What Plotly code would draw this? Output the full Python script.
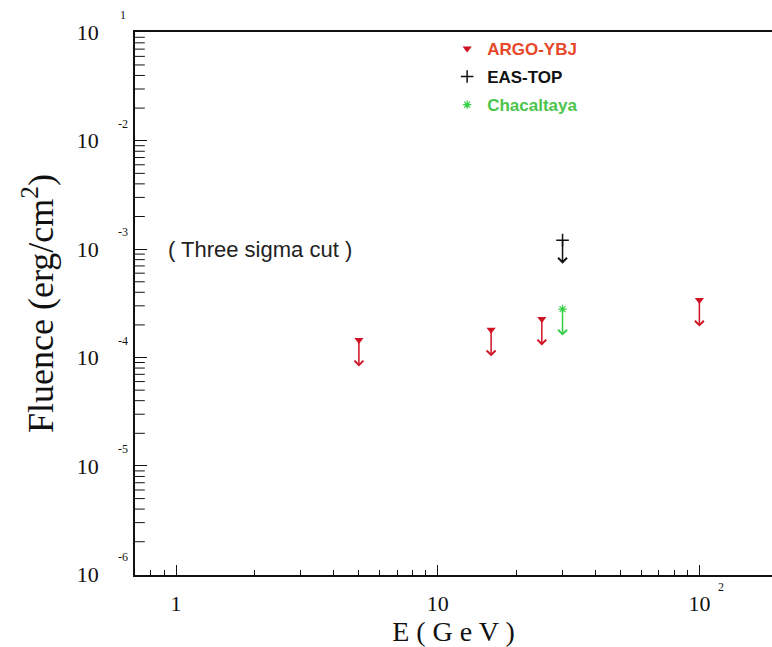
import math
import plotly.graph_objects as go

# ---- data ----
argo_E = [5, 16, 25, 100]
argo_F = [1.45e-4, 1.80e-4, 2.27e-4, 3.39e-4]
eas_E = [30]
eas_F = [1.21e-3]
chac_E = [30]
chac_F = [2.80e-4]

y_tickvals = [1e-6, 1e-5, 1e-4, 1e-3, 1e-2, 1e-1]
y_exponents = ["-6", "-5", "-4", "-3", "-2", "1"]
x_tickvals = [1, 10, 100]
x_ticktext = ["1", "10", "10"]
x_exponents = ["", "", "2"]

RED = "#cf1322"
BLACK = "#111111"
GREEN = "#35cf45"
SERIF = "Liberation Serif, Times New Roman, serif"
SANS = "Liberation Sans, Arial, sans-serif"

X_RANGE = [-0.1567, 2.2775]
Y_RANGE = [-6.006, -0.997]
y_minor = [m * 10.0 ** d for d in range(-6, -1) for m in range(2, 10)]
x_minor = [m * 10.0 ** d for d in range(-1, 3) for m in range(2, 10)]

fig = go.Figure()

# minor ticks on the left axis: short dashes clipped to the plot area (only inner half shows)
fig.add_trace(go.Scatter(
    x=[10 ** X_RANGE[0]] * len(y_minor), y=y_minor, mode="markers", showlegend=False,
    hoverinfo="skip", cliponaxis=True,
    marker=dict(symbol="line-ew", size=14, color=BLACK, line=dict(width=1, color=BLACK)),
))

fig.add_trace(go.Scatter(
    x=argo_E, y=argo_F, mode="markers",
    name="<b><span style='color:#e8472a'>ARGO-YBJ</span></b>",
    legendgroup="a",
    marker=dict(symbol="triangle-down", size=8, color=RED, line=dict(width=0)),
))
fig.add_trace(go.Scatter(
    x=eas_E, y=eas_F, mode="markers",
    name="<b><span style='color:#111111'>EAS-TOP</span></b>",
    legendgroup="b",
    marker=dict(symbol="cross-thin-open", size=9, color=BLACK, line=dict(width=1.5, color=BLACK)),
))
fig.add_trace(go.Scatter(
    x=chac_E, y=chac_F, mode="markers",
    name="<b><span style='color:#4cc44c'>Chacaltaya</span></b>",
    legendgroup="c",
    marker=dict(symbol="asterisk-open", size=7, color=GREEN, line=dict(width=1.2, color=GREEN)),
))

annotations = []
# upper-limit arrows
for E_list, F_list, col, length in [(argo_E, argo_F, RED, 28), (eas_E, eas_F, BLACK, 25), (chac_E, chac_F, GREEN, 28)]:
    for e, f in zip(E_list, F_list):
        annotations.append(dict(
            x=math.log10(e), y=math.log10(f), xref="x", yref="y",
            text="", showarrow=True, ax=0, ay=length, axref="pixel", ayref="pixel",
            arrowside="start", startarrowhead=4, startarrowsize=1.15, arrowwidth=1.5, arrowcolor=col,
            font=dict(size=1),
        ))

# y tick exponents
for v, ex in zip(y_tickvals, y_exponents):
    annotations.append(dict(
        x=-0.019, xref="paper", y=math.log10(v), yref="y", text=ex, showarrow=False,
        yshift=17, font=dict(family=SERIF, size=12, color=BLACK), xanchor="center", yanchor="middle",
    ))
# x tick exponents
for v, ex in zip(x_tickvals, x_exponents):
    if ex:
        annotations.append(dict(
            x=math.log10(v), xref="x", y=-0.022, yref="paper", text=ex, showarrow=False,
            xshift=22, font=dict(family=SERIF, size=12, color=BLACK), xanchor="center", yanchor="middle",
        ))

annotations.append(dict(
    x=0.321, y=-3.0, xref="x", yref="y", text="( Three sigma cut )", showarrow=False,
    font=dict(family=SANS, size=22, color="#222222"),
))

fig.update_layout(
    width=772, height=647,
    margin=dict(l=135, r=0, t=32, b=72),
    paper_bgcolor="white", plot_bgcolor="white",
    showlegend=True,
    legend=dict(x=0.49, y=1.002, xanchor="left", yanchor="top",
                font=dict(family=SANS, size=17), bgcolor="rgba(0,0,0,0)",
                tracegroupgap=3, traceorder="grouped"),
    annotations=annotations,
)

fig.update_xaxes(
    type="log", range=X_RANGE,
    showline=True, linecolor=BLACK, linewidth=1.5, mirror=True,
    showgrid=False, zeroline=False,
    tickmode="array", tickvals=x_tickvals, ticktext=x_ticktext,
    ticks="inside", ticklen=10, tickwidth=1, tickcolor=BLACK,
    minor=dict(tickmode="array", tickvals=x_minor, ticks="inside", ticklen=5, tickwidth=1,
               tickcolor=BLACK, showgrid=False),
    tickfont=dict(family=SERIF, size=22, color=BLACK),
    ticklabelstandoff=8,
    title=dict(text="E ( G e V )", font=dict(family=SERIF, size=28, color=BLACK), standoff=2),
)
fig.update_yaxes(
    type="log", range=Y_RANGE,
    showline=True, linecolor=BLACK, linewidth=1.5, mirror=False,
    showgrid=False, zeroline=False,
    tickmode="array", tickvals=y_tickvals, ticktext=["10"] * len(y_tickvals),
    ticks="inside", ticklen=12, tickwidth=1, tickcolor=BLACK,
    tickfont=dict(family=SERIF, size=22, color=BLACK),
    ticklabelstandoff=30,
    title=dict(text="Fluence (erg/cm<sup>2</sup>)", font=dict(family=SERIF, size=36, color=BLACK), standoff=12),
)

fig.write_html("out.html")
